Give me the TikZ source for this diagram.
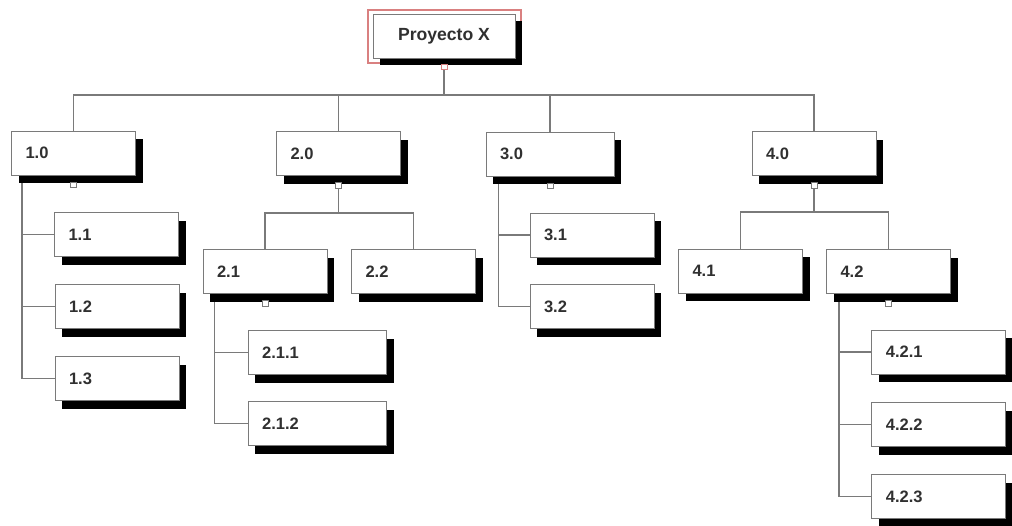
\documentclass[tikz,border=0pt]{standalone}
\usepackage{fontspec}
\setmainfont{Liberation Sans}
\usetikzlibrary{shadows,backgrounds}
\definecolor{linegray}{HTML}{7A7A7A}
\definecolor{txtgray}{HTML}{303030}
\definecolor{rootred}{HTML}{D98080}
\tikzset{
  wbox/.style={rectangle, draw=linegray, line width=0.75pt, fill=white,
    minimum height=33pt, text width=#1, inner xsep=10.5pt, inner ysep=0pt,
    align=left, font=\fontsize{12.4}{14}\selectfont\bfseries, text=txtgray,
    general shadow={fill=black, shadow xshift=5.4pt, shadow yshift=-6pt}},
  wbox/.default=72pt,
  rootbox/.style={rectangle, draw=linegray, line width=0.75pt, fill=white,
    minimum height=33pt, minimum width=106.5pt, inner sep=0pt,
    font=\fontsize{13.2}{15}\selectfont\bfseries, text=txtgray,
    general shadow={fill=black, shadow xshift=5.4pt, shadow yshift=-5pt}},
  conn/.style={draw=linegray, line width=0.8pt},
  knob/.style={rectangle, draw=linegray, fill=white, line width=0.6pt,
    minimum width=4.5pt, minimum height=4pt, inner sep=0pt},
}
\begin{document}
\begin{tikzpicture}[x=0.75pt, y=-0.75pt]
\useasboundingbox (0,0) rectangle (1012,525);
\clip (0,0) rectangle (1012,525);
% outer red frame of root
\draw[rootred, line width=0.8pt] (368,10) rectangle (521,63);
\node[rootbox] (root) at (444,36) {Proyecto X};
% level 1
\node[wbox] (n1) at (73.5,153) {1.0};
\node[wbox] (n2) at (338.5,153.5) {2.0};
\node[wbox=75pt] (n3) at (550,154) {3.0};
\node[wbox] (n4) at (814,153.5) {4.0};
% 1.x
\node[wbox] (n11) at (116.5,234.5) {1.1};
\node[wbox] (n12) at (117,306.5) {1.2};
\node[wbox] (n13) at (117,378.5) {1.3};
% 2.x
\node[wbox] (n21) at (265,271.5) {2.1};
\node[wbox] (n22) at (413.5,271.5) {2.2};
\node[wbox=83pt] (n211) at (317.5,352.5) {2.1.1};
\node[wbox=83pt] (n212) at (317.5,423.5) {2.1.2};
% 3.x
\node[wbox] (n31) at (592,235) {3.1};
\node[wbox] (n32) at (592,306.5) {3.2};
% 4.x
\node[wbox] (n41) at (740.5,271) {4.1};
\node[wbox] (n42) at (888.5,271.5) {4.2};
\node[wbox=79pt] (n421) at (938.5,352) {4.2.1};
\node[wbox=79pt] (n422) at (938.5,424.5) {4.2.2};
\node[wbox=79pt] (n423) at (938.5,496.5) {4.2.3};
% bus coordinates
\coordinate (b0) at (444,95);
\coordinate (b2) at (338.5,213);
\coordinate (b4) at (814,212);
\begin{scope}[on background layer]
  \draw[conn] (root.south) -- (b0);
  \draw[conn] (b0) -| (n1.north);
  \draw[conn] (b0) -| (n2.north);
  \draw[conn] (b0) -| (n3.north);
  \draw[conn] (b0) -| (n4.north);
  % 1.0 children
  \draw[conn] ([xshift=8.25pt]n1.south west) |- (n11.west);
  \draw[conn] ([xshift=8.25pt]n1.south west) |- (n12.west);
  \draw[conn] ([xshift=8.25pt]n1.south west) |- (n13.west);
  % 2.0 children
  \draw[conn] (n2.south) -- (b2);
  \draw[conn] (b2) -| (n21.north);
  \draw[conn] (b2) -| (n22.north);
  \draw[conn] ([xshift=9pt]n21.south west) |- (n211.west);
  \draw[conn] ([xshift=9pt]n21.south west) |- (n212.west);
  % 3.0 children
  \draw[conn] ([xshift=9.75pt]n3.south west) |- (n31.west);
  \draw[conn] ([xshift=9.75pt]n3.south west) |- (n32.west);
  % 4.0 children
  \draw[conn] (n4.south) -- (b4);
  \draw[conn] (b4) -| (n41.north);
  \draw[conn] (b4) -| (n42.north);
  \draw[conn] ([xshift=9.75pt]n42.south west) |- (n421.west);
  \draw[conn] ([xshift=9.75pt]n42.south west) |- (n422.west);
  \draw[conn] ([xshift=9.75pt]n42.south west) |- (n423.west);
\end{scope}
% expand knobs
\node[knob, draw=rootred] (k0) at ([yshift=-6.2pt]root.south) {};
\node[knob] (k1) at ([yshift=-7pt]n1.south) {};
\node[knob] (k2) at ([yshift=-7pt]n2.south) {};
\node[knob] (k3) at ([yshift=-7pt]n3.south) {};
\node[knob] (k4) at ([yshift=-7pt]n4.south) {};
\node[knob] (k21) at ([yshift=-7pt]n21.south) {};
\node[knob] (k42) at ([yshift=-7pt]n42.south) {};
\end{tikzpicture}
\end{document}
